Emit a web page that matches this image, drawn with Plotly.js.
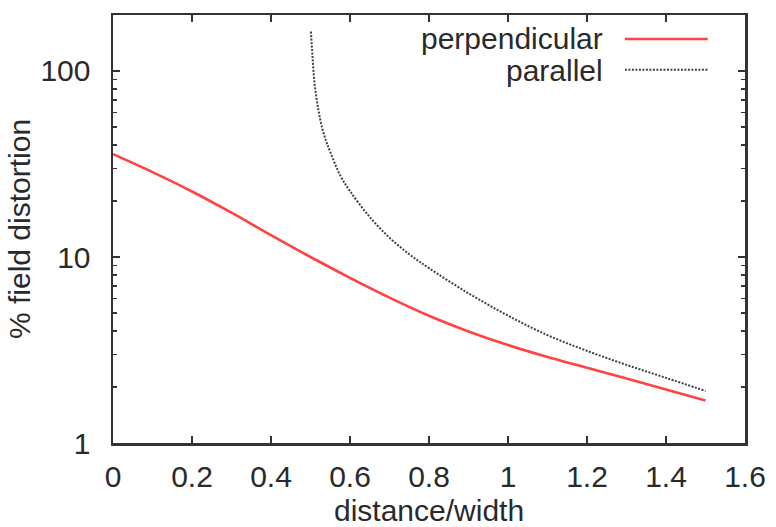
<!DOCTYPE html>
<html>
<head>
<meta charset="utf-8">
<script src="https://cdn.plot.ly/plotly-3.0.1.min.js"></script>
<style>
  html, body { margin: 0; padding: 0; background: #fff; }
  #chart { width: 776px; height: 527px; }
</style>
</head>
<body>
<div id="chart"></div>
<script>
// ---- data ----
const perpX = [0, 0.1, 0.2, 0.3, 0.4, 0.5, 0.6, 0.7, 0.8, 0.9, 1.0, 1.1, 1.2, 1.3, 1.4, 1.5];
const perpY = [35.7, 28.6, 22.5, 17.3, 13.1, 10.0, 7.73, 6.05, 4.83, 3.98, 3.36, 2.90, 2.54, 2.22, 1.94, 1.69];

const paraX = [0.501, 0.505, 0.51, 0.52, 0.53, 0.54, 0.55, 0.575, 0.6, 0.65, 0.7, 0.75, 0.8, 0.9, 1.0, 1.1, 1.2, 1.3, 1.4, 1.5];
const paraY = [163, 120, 87, 61.7, 49.0, 41.7, 36.7, 27.5, 22.6, 16.4, 12.7, 10.35, 8.71, 6.38, 4.84, 3.80, 3.13, 2.63, 2.24, 1.905];

const seriesNames = ["perpendicular", "parallel"];
const xTitle = "distance/width";
const yTitle = "% field distortion";
const xTickVals = [0, 0.2, 0.4, 0.6, 0.8, 1.0, 1.2, 1.4, 1.6];
const xTickText = ["0", "0.2", "0.4", "0.6", "0.8", "1", "1.2", "1.4", "1.6"];
const yTickVals = [1, 10, 100];
const yTickText = ["1", "10", "100"];
const yMinorVals = [2, 3, 4, 5, 6, 7, 8, 9, 20, 30, 40, 50, 60, 70, 80, 90, 200];

const FONT = "Liberation Sans, Arial, Helvetica, sans-serif";
const TXT = "#2a2a2a";
const RED = "#ff4242";
const DOT = "#404040";

const traces = [
  { x: perpX, y: perpY, type: "scatter", mode: "lines", name: seriesNames[0],
    line: { color: RED, width: 2.6, shape: "spline", smoothing: 1 }, showlegend: false },
  { x: paraX, y: paraY, type: "scatter", mode: "lines", name: seriesNames[1],
    line: { color: DOT, width: 2, dash: "2px,1.5px", shape: "spline", smoothing: 1 }, showlegend: false }
];

const layout = {
  width: 776, height: 527,
  margin: { l: 113, r: 31, t: 15, b: 84 },
  paper_bgcolor: "#fff", plot_bgcolor: "#fff",
  font: { family: FONT, size: 30, color: TXT },
  showlegend: false,
  xaxis: {
    range: [0, 1.6], tickvals: xTickVals, ticktext: xTickText,
    ticks: "inside", ticklen: 7, tickwidth: 2, tickcolor: "#333",
    showline: true, linecolor: "#333", linewidth: 2.5, mirror: "ticks",
    showgrid: false, zeroline: false, ticklabelstandoff: 5,
    tickfont: { size: 30, family: FONT, color: TXT }
  },
  yaxis: {
    type: "log", range: [0, Math.log10(200)], tickvals: yTickVals, ticktext: yTickText,
    ticks: "inside", ticklen: 7, tickwidth: 2, tickcolor: "#333",
    minor: { ticks: "inside", ticklen: 4, tickwidth: 1.5, tickcolor: "#333",
             tickvals: yMinorVals, showgrid: false },
    showline: true, linecolor: "#333", linewidth: 2.5, mirror: "ticks",
    showgrid: false, zeroline: false, ticklabelstandoff: 14,
    title: { text: yTitle, font: { size: 30, family: FONT, color: TXT }, standoff: 1 },
    tickfont: { size: 30, family: FONT, color: TXT }
  },
  annotations: [
    { xref: "paper", yref: "paper", x: 0.5, y: -0.158, xanchor: "center", yanchor: "middle",
      text: xTitle, showarrow: false, font: { size: 30, family: FONT, color: TXT } },
    { xref: "paper", yref: "paper", x: 0.778, y: 0.945, xanchor: "right", yanchor: "middle",
      text: seriesNames[0], showarrow: false, font: { size: 30, family: FONT, color: TXT } },
    { xref: "paper", yref: "paper", x: 0.778, y: 0.870, xanchor: "right", yanchor: "middle",
      text: seriesNames[1], showarrow: false, font: { size: 30, family: FONT, color: TXT } }
  ],
  shapes: [
    { type: "line", xref: "paper", yref: "paper", x0: 0.810, x1: 0.941, y0: 0.944, y1: 0.944,
      line: { color: RED, width: 2.6 } },
    { type: "line", xref: "paper", yref: "paper", x0: 0.810, x1: 0.941, y0: 0.872, y1: 0.872,
      line: { color: DOT, width: 2, dash: "2px,1.5px" } }
  ]
};

Plotly.newPlot("chart", traces, layout, { staticPlot: true, displayModeBar: false });
</script>
</body>
</html>
